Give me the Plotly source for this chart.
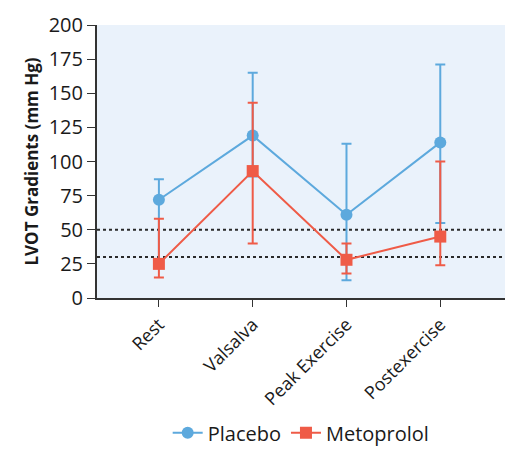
import plotly.graph_objects as go

# data
conditions = ["Rest", "Valsalva", "Peak Exercise", "Postexercise"]

placebo_mean = [72, 119, 61, 114]
placebo_upper = [87, 165, 113, 171]
placebo_lower = [28, 89, 13, 55]

metoprolol_mean = [25, 93, 28, 45]
metoprolol_upper = [58, 143, 40, 100]
metoprolol_lower = [15, 40, 18, 24]

threshold_lines = [50, 30]
y_ticks = [0, 25, 50, 75, 100, 125, 150, 175, 200]

BLUE = "#5DA9DD"
RED = "#EF5B47"
FONT = "Open Sans"


def make_series(name, mean, upper, lower, color, symbol):
    return go.Scatter(
        x=conditions,
        y=mean,
        name=name,
        mode="lines+markers",
        line=dict(color=color, width=2),
        marker=dict(color=color, size=12, symbol=symbol),
        error_y=dict(
            type="data",
            symmetric=False,
            array=[u - m for u, m in zip(upper, mean)],
            arrayminus=[m - l for m, l in zip(mean, lower)],
            color=color,
            thickness=2,
            width=5,
        ),
    )


fig = go.Figure()
fig.add_trace(make_series("Placebo", placebo_mean, placebo_upper, placebo_lower, BLUE, "circle"))
fig.add_trace(make_series("Metoprolol", metoprolol_mean, metoprolol_upper, metoprolol_lower, RED, "square"))

for level in threshold_lines:
    fig.add_hline(y=level, line=dict(color="#2a2a2a", width=2, dash="dot"), layer="below")

# page body adds 8px on every side, so the figure is 16px smaller than the window
fig.update_layout(
    width=509,
    height=438,
    margin=dict(l=89, r=12, t=17, b=148),
    paper_bgcolor="white",
    plot_bgcolor="#EAF2FB",
    font=dict(family=FONT, size=18, color="#1a1a1a"),
    legend=dict(
        orientation="h",
        x=0.576,
        xanchor="center",
        xref="container",
        y=0.03,
        yanchor="middle",
        yref="container",
        font=dict(size=20),
    ),
)
fig.update_xaxes(
    range=[-0.66, 3.69],
    tickangle=-45,
    automargin=False,
    showline=True,
    linecolor="#333333",
    linewidth=2,
    ticks="outside",
    ticklen=7,
    tickcolor="#333333",
    showgrid=False,
    tickfont=dict(size=18),
)
fig.update_yaxes(
    range=[0, 200],
    tickvals=y_ticks,
    automargin=False,
    showline=True,
    linecolor="#333333",
    linewidth=2,
    ticks="outside",
    ticklen=8,
    tickcolor="#333333",
    showgrid=False,
    zeroline=False,
    tickfont=dict(size=20),
    title=dict(text="<b>LVOT Gradients (mm Hg)</b>", font=dict(size=17), standoff=6),
)

fig.write_html("out.html")
